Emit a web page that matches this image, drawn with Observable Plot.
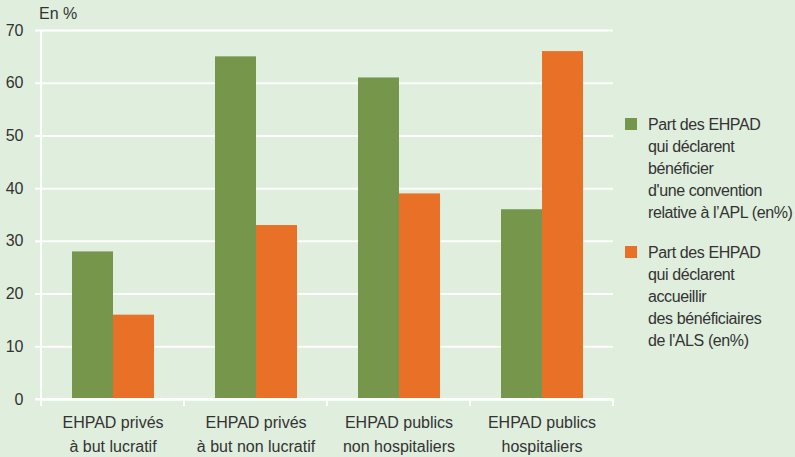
<!DOCTYPE html>
<html><head><meta charset="utf-8">
<script src="https://cdn.jsdelivr.net/npm/d3@7"></script>
<script src="https://cdn.jsdelivr.net/npm/@observablehq/plot@0.6"></script>
<style>
html,body{margin:0;padding:0;background:#dfeedd;}
#wrap{position:relative;width:795px;height:457px;font-family:"Liberation Sans",Arial,sans-serif;color:#333;}
#unit{position:absolute;left:39px;top:4px;font-size:16px;line-height:20px;}
.lg{position:absolute;left:625px;font-size:16px;line-height:22px;letter-spacing:-0.4px;}
.lg .sw{position:absolute;left:0;top:4.5px;width:12px;height:12px;}
.lg .tx{position:absolute;left:23px;top:0;white-space:nowrap;}
svg{display:block;}
</style></head><body><div id="wrap"></div>
<script>
const categories = ["privés lucratif","privés non lucratif","publics non hospitaliers","publics hospitaliers"];
const categoryLabels = ["EHPAD privés\nà but lucratif","EHPAD privés\nà but non lucratif","EHPAD publics\nnon hospitaliers","EHPAD publics\nhospitaliers"];
const seriesKeys = ["APL","ALS"];
const seriesLabels = [
  ["Part des EHPAD","qui déclarent","bénéficier","d'une convention","relative à l’APL (en%)"],
  ["Part des EHPAD","qui déclarent","accueillir","des bénéficiaires","de l'ALS (en%)"]
];
const conventionAPL = [28, 65, 61, 36];
const accueilALS = [16, 33, 39, 66];
const yTicks = [0, 10, 20, 30, 40, 50, 60, 70];
const colors = ["#76964b", "#e97127"];
const unitLabel = "En %";

const data = categories.flatMap((c, i) => [
  {cat: c, serie: seriesKeys[0], value: conventionAPL[i]},
  {cat: c, serie: seriesKeys[1], value: accueilALS[i]}
]);
const labelOf = Object.fromEntries(categories.map((c, i) => [c, categoryLabels[i]]));

const plot = Plot.plot({
  width: 795, height: 457,
  marginLeft: 40, marginRight: 182, marginTop: 30, marginBottom: 58,
  style: {background: "transparent", fontFamily: "'Liberation Sans', Arial, sans-serif", fontSize: "16px", color: "#333", overflow: "visible"},
  fx: {domain: categories, padding: 0, label: null, axis: null},
  x: {domain: seriesKeys, paddingInner: 0, paddingOuter: 0.74, axis: null},
  y: {domain: [0, 70], label: null, axis: null},
  color: {domain: seriesKeys, range: colors},
  marks: [
    Plot.gridY(yTicks, {stroke: "white", strokeOpacity: 1, strokeWidth: 2}),
    Plot.barY(data, {fx: "cat", x: "serie", y: "value", fill: "serie"}),
    Plot.ruleY([0], {stroke: "white", strokeWidth: 2}),
    Plot.axisY(yTicks, {tickSize: 6, tickPadding: 12, stroke: "white", strokeWidth: 2, label: null, fill: "#333"}),
    Plot.axisFx({anchor: "bottom", tickSize: 0, tickPadding: 11, lineHeight: 1.5, tickFormat: d => labelOf[d], label: null, fill: "#333"})
  ]
});

// axis line + category boundary ticks
const svg = d3.select(plot);
const fx = plot.scale("fx"), y = plot.scale("y");
const y0 = y.apply(0), yTop = y.apply(70);
const edges = categories.map(c => fx.apply(c));
edges.push(fx.apply(categories[categories.length - 1]) + fx.bandwidth);
const g = svg.append("g").attr("stroke", "white").attr("stroke-width", 2);
edges.forEach((ex, i) => {
  g.append("line").attr("x1", ex).attr("x2", ex).attr("y1", i === 0 ? yTop : y0).attr("y2", y0 + 7);
});
g.append("line").attr("x1", edges[0] - 6).attr("x2", edges[edges.length - 1]).attr("y1", y0).attr("y2", y0);

const wrap = document.getElementById("wrap");
wrap.appendChild(plot);
const u = document.createElement("div"); u.id = "unit"; u.textContent = unitLabel; wrap.appendChild(u);
const tops = [113.5, 241.5];
seriesLabels.forEach((lines, i) => {
  const d = document.createElement("div"); d.className = "lg"; d.style.top = tops[i] + "px";
  const sw = document.createElement("div"); sw.className = "sw"; sw.style.background = colors[i]; d.appendChild(sw);
  const tx = document.createElement("div"); tx.className = "tx"; tx.innerHTML = lines.join("<br>"); d.appendChild(tx);
  wrap.appendChild(d);
});
</script></body></html>
